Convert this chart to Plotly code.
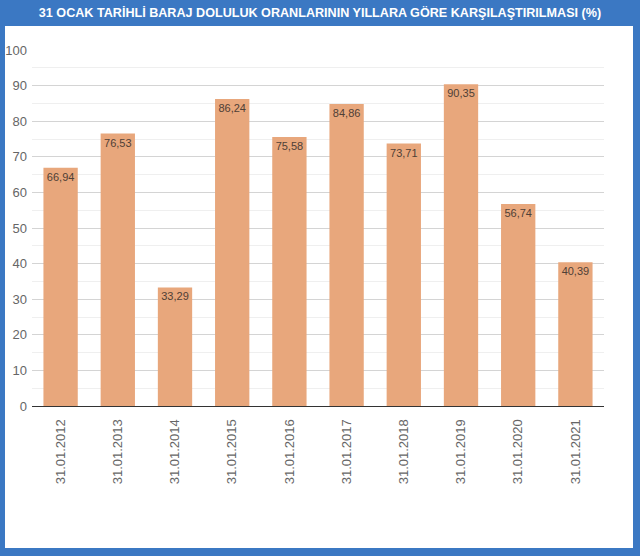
import plotly.graph_objects as go

dates = ["31.01.2012", "31.01.2013", "31.01.2014", "31.01.2015", "31.01.2016",
         "31.01.2017", "31.01.2018", "31.01.2019", "31.01.2020", "31.01.2021"]
doluluk = [66.94, 76.53, 33.29, 86.24, 75.58, 84.86, 73.71, 90.35, 56.74, 40.39]
title_text = "31 OCAK TARİHLİ BARAJ DOLULUK ORANLARININ YILLARA GÖRE KARŞILAŞTIRILMASI (%)"

frame_blue = "#3b78c3"
bar_color = "#e8a77c"

W, H = 640, 556
m_l, m_r, m_t, m_b = 32, 36, 50, 150
pw = W - m_l - m_r
ph = H - m_t - m_b


def px_x(p):
    return (p - m_l) / pw


def px_y(p):
    return (H - m_b - p) / ph


fig = go.Figure(go.Bar(
    x=dates, y=doluluk,
    marker=dict(color=bar_color, line=dict(width=0)),
    text=[f"{v:.2f}".replace(".", ",") for v in doluluk],
    textposition="inside", insidetextanchor="end",
    textfont=dict(family="Arial, Liberation Sans", size=11, color="#4f4036"),
    textangle=0,
    hoverinfo="skip",
))

# white card inside the blue frame
fig.add_shape(type="rect", xref="paper", yref="paper", layer="below",
              x0=px_x(5), x1=px_x(633), y0=px_y(548), y1=px_y(26),
              fillcolor="white", line=dict(width=0))

fig.update_layout(
    width=W, height=H,
    margin=dict(l=m_l, r=m_r, t=m_t, b=m_b, autoexpand=False),
    paper_bgcolor=frame_blue, plot_bgcolor="white",
    separators=",.",
    bargap=0.4,
    showlegend=False,
    title=dict(text=f"<b>{title_text}</b>", x=0.5, xanchor="center",
               y=1 - 13 / H, yanchor="middle", yref="container",
               font=dict(family="Arial, Liberation Sans", size=12.6, color="white")),
    font=dict(family="Arial, Liberation Sans"),
)
fig.update_xaxes(tickangle=-90, showgrid=False, showline=True, linecolor="#333333", linewidth=1,
                 tickfont=dict(size=13, color="#666666"), ticks="", ticklabelstandoff=7,
                 automargin=False)
fig.update_yaxes(range=[0, 100], dtick=10, showgrid=True, gridcolor="#d4d4d4", gridwidth=1,
                 minor=dict(dtick=5, showgrid=True, gridcolor="#efefef"),
                 zeroline=False, tickfont=dict(size=13, color="#666666"), ticklabelstandoff=4,
                 automargin=False)

fig.write_html("out.html", config={"displayModeBar": False},
               post_script="document.body.style.margin='0';")
